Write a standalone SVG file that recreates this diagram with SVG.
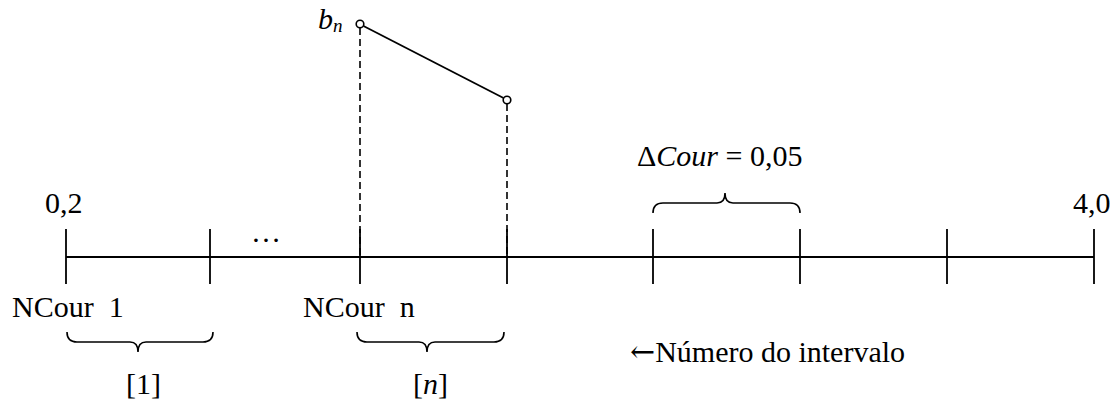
<svg xmlns="http://www.w3.org/2000/svg" width="1119" height="405" viewBox="0 0 1119 405">
<style>
.t{font-family:"Liberation Serif","Times New Roman",serif;font-size:30px;fill:#000}
.i{font-style:italic}
.ax{stroke:#000;stroke-width:2.2;fill:none}
.tk{stroke:#000;stroke-width:1.8;fill:none}
.br{stroke:#000;stroke-width:1.6;fill:none}
.ds{stroke:#000;stroke-width:1.6;stroke-dasharray:7 4;fill:none}
.pt{stroke:#000;stroke-width:1.6;fill:#fff}
.ar{font-family:"DejaVu Serif",serif}
</style>
<rect width="1119" height="405" fill="#fff"/>
<g id="axis">
<line class="ax" x1="66" y1="257" x2="1094" y2="257"/>
<line class="tk" x1="66" y1="229" x2="66" y2="284"/>
<line class="tk" x1="210" y1="229" x2="210" y2="284"/>
<line class="tk" x1="360" y1="229" x2="360" y2="284"/>
<line class="tk" x1="507" y1="229" x2="507" y2="284"/>
<line class="tk" x1="653" y1="229" x2="653" y2="284"/>
<line class="tk" x1="800" y1="229" x2="800" y2="284"/>
<line class="tk" x1="947" y1="229" x2="947" y2="284"/>
<line class="tk" x1="1094" y1="229" x2="1094" y2="284"/>
</g>
<g id="connectors">
<line class="ds" x1="360" y1="28" x2="360" y2="257"/>
<line class="ds" x1="507" y1="104" x2="507" y2="257"/>
<line class="tk" x1="363.5" y1="26" x2="503.5" y2="98"/>
</g>
<g id="points">
<circle class="pt" cx="360" cy="24" r="3.8"/>
<circle class="pt" cx="507" cy="100" r="3.8"/>
</g>
<g id="braces">
<path class="br" d="M67,332 Q67,342 77,342 L130,342 Q138,342 138,352 Q138,342 146,342 L203,342 Q213,342 213,332"/>
<path class="br" d="M357,332 Q357,342 367,342 L419,342 Q427,342 427,352 Q427,342 435,342 L494,342 Q504,342 504,332"/>
<path class="br" d="M653,213 Q653,203 663,203 L717,203 Q725,203 725,193 Q725,203 733,203 L790,203 Q800,203 800,213"/>
</g>
<g id="labels">
<text class="t i" x="318" y="29" font-size="26">b<tspan font-size="19" dy="3">n</tspan></text>
<text class="t" x="45" y="213">0,2</text>
<text class="t" x="1073" y="213">4,0</text>
<text class="t" x="266" y="242" text-anchor="middle" font-size="32">…</text>
<text class="t" x="12" y="317" xml:space="preserve">NCour  1</text>
<text class="t" x="303" y="317" xml:space="preserve">NCour  n</text>
<text class="t" x="126" y="394">[1]</text>
<text class="t" x="413" y="394">[<tspan class="i">n</tspan>]</text>
<text class="t" x="637" y="166">Δ<tspan class="i">Cour</tspan> = 0,05</text>
<text class="t" x="630" y="362"><tspan class="ar">←</tspan>Número do intervalo</text>
</g>
</svg>
